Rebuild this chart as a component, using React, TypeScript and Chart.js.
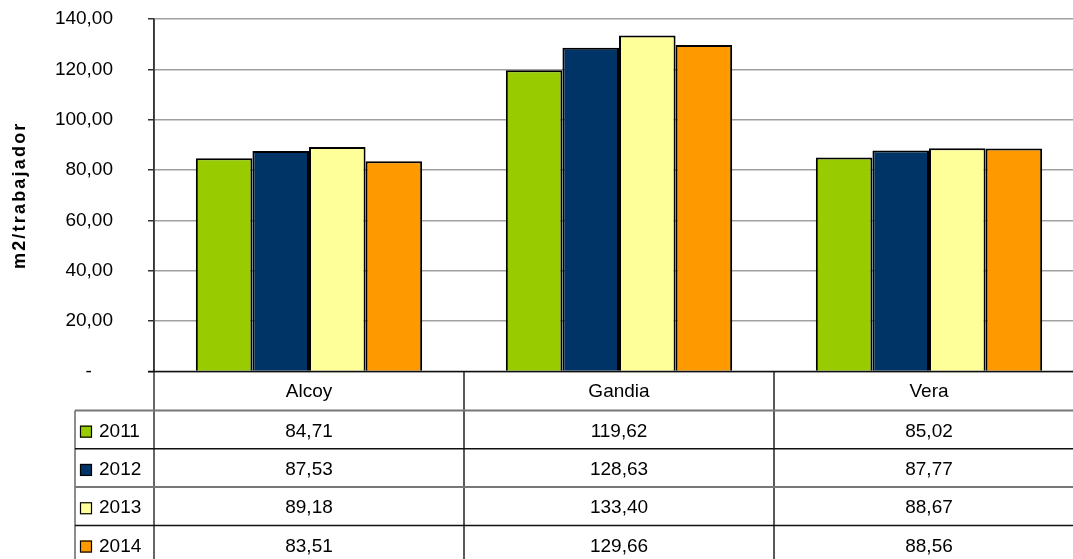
import React, { useEffect, useRef } from "react";
import { Chart, registerables } from "chart.js";

Chart.register(...registerables);

const categories = ["Alcoy", "Gandia", "Vera"];
const years = ["2011", "2012", "2013", "2014"];
const values2011 = [84.71, 119.62, 85.02];
const values2012 = [87.53, 128.63, 87.77];
const values2013 = [89.18, 133.4, 88.67];
const values2014 = [83.51, 129.66, 88.56];
const seriesValues = [values2011, values2012, values2013, values2014];
const colors = ["#99CC00", "#003366", "#FFFF99", "#FF9900"];
const yTicks = [0, 20, 40, 60, 80, 100, 120, 140];
const yTitle = "m2/trabajador";

const FONT = "'Liberation Sans', Arial, sans-serif";
const fmt = (v: number) => v.toFixed(2).replace(".", ",");

const CANVAS_W = 1100;
const CANVAS_H = 600;
const AREA_TOP = 19;
const AREA_BOTTOM = 371.5;
const AREA_LEFT = 154;
const AREA_RIGHT = 1084;
const HEADER_H = 39;
const ROW_H = 38.3;
const LEGEND_LEFT = 75;

const tablePlugin = {
  id: "dataTable",
  afterDraw(chart: any) {
    const ctx = chart.ctx as CanvasRenderingContext2D;
    const xs = chart.scales.x;
    const area = chart.chartArea;
    const bottom = area.bottom;
    const n = categories.length;
    const centers = categories.map((_, i) => xs.getPixelForValue(i));
    const half = (centers.length > 1 ? centers[1] - centers[0] : area.width) / 2;
    ctx.save();

    ctx.strokeStyle = "#333";
    ctx.lineWidth = 1.5;
    ctx.beginPath();
    ctx.moveTo(area.left, area.top);
    ctx.lineTo(area.left, CANVAS_H);
    ctx.stroke();

    ctx.strokeStyle = "#222";
    ctx.lineWidth = 1.5;
    for (let i = 0; i < n; i++) {
      const xr = centers[i] + half;
      ctx.beginPath();
      ctx.moveTo(xr, bottom);
      ctx.lineTo(xr, CANVAS_H);
      ctx.stroke();
    }

    const tableTop = bottom + HEADER_H;
    ctx.strokeStyle = "#666";
    ctx.lineWidth = 1.5;
    ctx.beginPath();
    ctx.moveTo(LEGEND_LEFT, tableTop);
    ctx.lineTo(LEGEND_LEFT, CANVAS_H);
    ctx.stroke();

    for (let r = 0; r < years.length; r++) {
      const y = tableTop + r * ROW_H;
      ctx.strokeStyle = r % 2 === 0 ? "#777" : "#111";
      ctx.lineWidth = r % 2 === 0 ? 2 : 1.5;
      ctx.beginPath();
      ctx.moveTo(LEGEND_LEFT, y);
      ctx.lineTo(area.right + 20, y);
      ctx.stroke();
    }

    ctx.strokeStyle = "#111";
    ctx.lineWidth = 1.5;
    ctx.beginPath();
    ctx.moveTo(area.left - 6, bottom);
    ctx.lineTo(area.right + 20, bottom);
    ctx.stroke();

    ctx.fillStyle = "#000";
    ctx.font = `19px ${FONT}`;
    ctx.textAlign = "center";
    ctx.textBaseline = "middle";
    categories.forEach((c, i) => {
      ctx.fillText(c, centers[i], bottom + HEADER_H / 2 + 1);
    });

    years.forEach((yr, r) => {
      const cy = tableTop + r * ROW_H + ROW_H / 2 + 2;
      ctx.fillStyle = colors[r];
      ctx.fillRect(80, cy - 6, 12, 12);
      ctx.strokeStyle = "#000";
      ctx.lineWidth = 1.2;
      ctx.strokeRect(80.5, cy - 5.5, 11, 11);
      ctx.fillStyle = "#000";
      ctx.textAlign = "left";
      ctx.fillText(yr, 99, cy);
      ctx.textAlign = "center";
      seriesValues[r].forEach((v, i) => {
        ctx.fillText(fmt(v), centers[i], cy);
      });
    });

    ctx.save();
    ctx.translate(20, (area.top + area.bottom) / 2);
    ctx.rotate(-Math.PI / 2);
    ctx.font = `bold 18px ${FONT}`;
    (ctx as any).letterSpacing = "2.2px";
    ctx.textAlign = "center";
    ctx.textBaseline = "middle";
    ctx.fillStyle = "#000";
    ctx.fillText(yTitle, 0, 0);
    ctx.restore();

    ctx.restore();
  },
};

export default function App() {
  const ref = useRef<HTMLCanvasElement | null>(null);
  useEffect(() => {
    if (!ref.current) return;
    const chart = new Chart(ref.current, {
      type: "bar",
      data: {
        labels: categories,
        datasets: years.map((y, i) => ({
          label: y,
          data: seriesValues[i],
          backgroundColor: colors[i],
          borderColor: "#000",
          borderWidth: 2,
          categoryPercentage: 0.73,
          barPercentage: 1,
        })),
      },
      options: {
        animation: false,
        responsive: false,
        devicePixelRatio: 1,
        layout: {
          padding: {
            top: AREA_TOP,
            bottom: CANVAS_H - AREA_BOTTOM,
            left: 0,
            right: CANVAS_W - AREA_RIGHT,
          },
        },
        plugins: {
          legend: { display: false },
          tooltip: { enabled: false },
          title: { display: false },
        },
        scales: {
          x: {
            display: false,
          },
          y: {
            min: 0,
            max: 140,
            afterFit: (scale: any) => {
              scale.width = AREA_LEFT;
              scale.paddingTop = 0;
              scale.paddingBottom = 0;
            },
            afterBuildTicks: (scale: any) => {
              scale.ticks = yTicks.map((v) => ({ value: v }));
            },
            ticks: {
              color: "#000",
              font: { family: FONT, size: 19 },
              padding: 35,
              callback: (v: any) => (Number(v) === 0 ? "-    " : fmt(Number(v))),
            },
            grid: {
              color: "#a0a0a0",
              lineWidth: 1.5,
              tickLength: 6,
              tickColor: "#333",
            },
            border: { color: "#333", width: 1.5 },
          },
        },
      },
      plugins: [tablePlugin],
    });
    return () => chart.destroy();
  }, []);
  return (
    <div
      style={{
        position: "fixed",
        left: 0,
        top: 0,
        width: 1073,
        height: 559,
        overflow: "hidden",
        background: "#fff",
      }}
    >
      <canvas
        ref={ref}
        width={CANVAS_W}
        height={CANVAS_H}
        style={{ width: CANVAS_W, height: CANVAS_H, display: "block" }}
      />
    </div>
  );
}
